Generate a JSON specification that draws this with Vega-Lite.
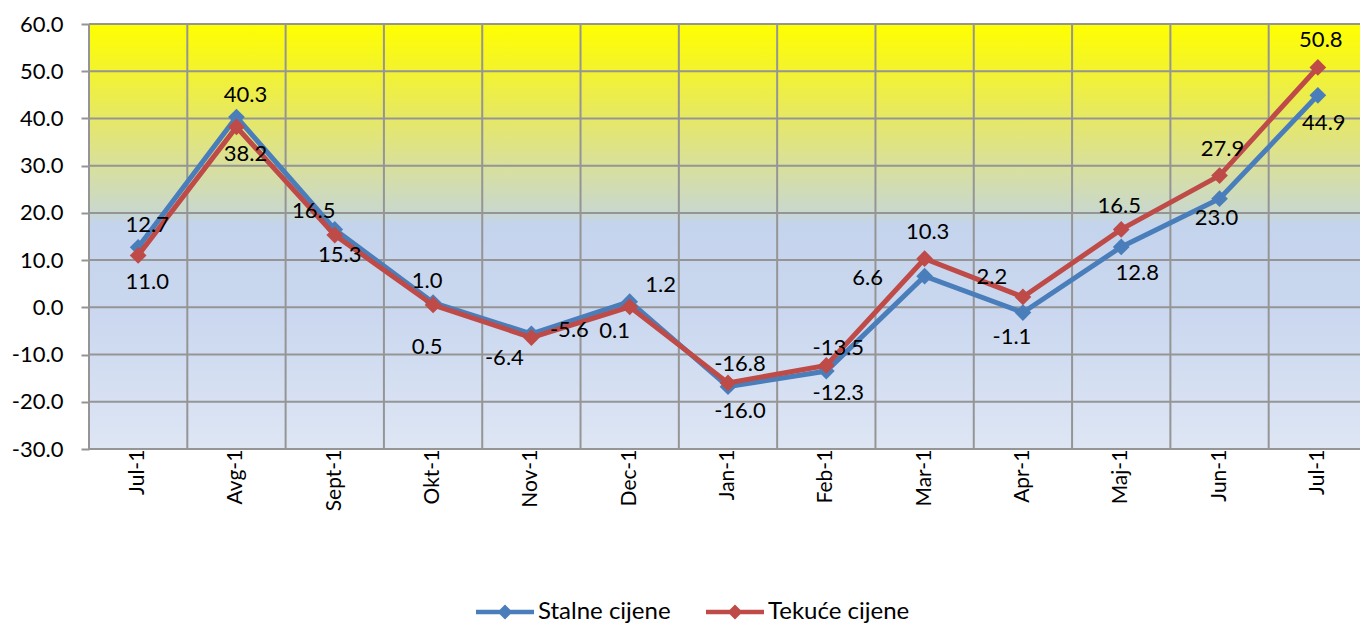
{
  "$schema": "https://vega.github.io/schema/vega-lite/v6.json",
  "width": 1271,
  "height": 425,
  "autosize": {"type": "none"},
  "padding": {"left": 89, "top": 24, "right": 0, "bottom": 176},
  "background": "white",
  "config": {
    "view": {"stroke": null},
    "locale": {"number": {"decimal": ".", "thousands": ",", "grouping": [3], "currency": ["", ""], "minus": "-"}},
    "text": {"font": "Lato", "fontSize": 22, "fill": "#000000"},
    "axis": {"labelFont": "Lato", "labelFontSize": 21, "labelColor": "#000000"}
  },
  "datasets": {
    "main": [
      {"mjesec": "Jul-10", "serija": "Stalne cijene", "v": 12.7},
      {"mjesec": "Avg-10", "serija": "Stalne cijene", "v": 40.3},
      {"mjesec": "Sept-10", "serija": "Stalne cijene", "v": 16.5},
      {"mjesec": "Okt-10", "serija": "Stalne cijene", "v": 1.0},
      {"mjesec": "Nov-10", "serija": "Stalne cijene", "v": -5.6},
      {"mjesec": "Dec-10", "serija": "Stalne cijene", "v": 1.2},
      {"mjesec": "Jan-11", "serija": "Stalne cijene", "v": -16.8},
      {"mjesec": "Feb-11", "serija": "Stalne cijene", "v": -13.5},
      {"mjesec": "Mar-11", "serija": "Stalne cijene", "v": 6.6},
      {"mjesec": "Apr-11", "serija": "Stalne cijene", "v": -1.1},
      {"mjesec": "Maj-11", "serija": "Stalne cijene", "v": 12.8},
      {"mjesec": "Jun-11", "serija": "Stalne cijene", "v": 23.0},
      {"mjesec": "Jul-11", "serija": "Stalne cijene", "v": 44.9},
      {"mjesec": "Jul-10", "serija": "Tekuće cijene", "v": 11.0},
      {"mjesec": "Avg-10", "serija": "Tekuće cijene", "v": 38.2},
      {"mjesec": "Sept-10", "serija": "Tekuće cijene", "v": 15.3},
      {"mjesec": "Okt-10", "serija": "Tekuće cijene", "v": 0.5},
      {"mjesec": "Nov-10", "serija": "Tekuće cijene", "v": -6.4},
      {"mjesec": "Dec-10", "serija": "Tekuće cijene", "v": 0.1},
      {"mjesec": "Jan-11", "serija": "Tekuće cijene", "v": -16.0},
      {"mjesec": "Feb-11", "serija": "Tekuće cijene", "v": -12.3},
      {"mjesec": "Mar-11", "serija": "Tekuće cijene", "v": 10.3},
      {"mjesec": "Apr-11", "serija": "Tekuće cijene", "v": 2.2},
      {"mjesec": "Maj-11", "serija": "Tekuće cijene", "v": 16.5},
      {"mjesec": "Jun-11", "serija": "Tekuće cijene", "v": 27.9},
      {"mjesec": "Jul-11", "serija": "Tekuće cijene", "v": 50.8}
    ],
    "grid": [
      {"v": -30}, {"v": -20}, {"v": -10}, {"v": 0}, {"v": 10},
      {"v": 20}, {"v": 30}, {"v": 40}, {"v": 50}, {"v": 60}
    ]
  },
  "data": {"name": "main"},
  "encoding": {
    "x": {
      "field": "mjesec", "type": "nominal",
      "scale": {
        "domain": ["Jul-10", "Avg-10", "Sept-10", "Okt-10", "Nov-10", "Dec-10", "Jan-11", "Feb-11", "Mar-11", "Apr-11", "Maj-11", "Jun-11", "Jul-11"],
        "range": [0, 1278],
        "paddingInner": 0, "paddingOuter": 0
      },
      "axis": {
        "title": null, "labelAngle": -90, "ticks": false, "domain": false, "grid": false,
        "labelPadding": -12, "zindex": 0, "labelOverlap": false, "labelBound": false
      }
    },
    "y": {
      "field": "v", "type": "quantitative",
      "scale": {"domain": [-30, 60], "nice": false, "zero": false},
      "axis": {
        "title": null, "format": ".1f", "values": [-30, -20, -10, 0, 10, 20, 30, 40, 50, 60],
        "grid": false, "domain": false, "ticks": true, "tickSize": 8, "tickColor": "#959595",
        "tickWidth": 2, "labelPadding": 18, "zindex": 0, "labelFontSize": 22
      }
    }
  },
  "layer": [
    {
      "data": {"values": [{}]},
      "mark": {
        "type": "rect",
        "fill": {
          "gradient": "linear", "x1": 0, "y1": 0, "x2": 0, "y2": 1,
          "stops": [
            {"offset": 0, "color": "#FFFF00"},
            {"offset": 0.08, "color": "#F6F621"},
            {"offset": 0.22, "color": "#E6E864"},
            {"offset": 0.33, "color": "#D9E09A"},
            {"offset": 0.44, "color": "#C9D8CC"},
            {"offset": 0.47, "color": "#C4D4EC"},
            {"offset": 0.7, "color": "#CBD8EF"},
            {"offset": 1, "color": "#DEE6F4"}
          ]
        }
      },
      "encoding": {"x": null, "y": null}
    },
    {
      "data": {"name": "grid"},
      "mark": {"type": "rule", "color": "#959595", "strokeWidth": 2},
      "encoding": {"x": null}
    },
    {
      "transform": [{"filter": "datum.serija == 'Stalne cijene'"}],
      "mark": {"type": "rule", "color": "#959595", "strokeWidth": 2},
      "encoding": {
        "x": {"field": "mjesec", "type": "nominal", "bandPosition": 0},
        "y": null
      }
    },
    {
      "transform": [{"filter": "datum.serija == 'Stalne cijene'"}],
      "mark": {"type": "line", "strokeWidth": 5},
      "encoding": {
        "color": {
          "field": "serija", "type": "nominal",
          "scale": {"domain": ["Stalne cijene", "Tekuće cijene"], "range": ["#4A7EBB", "#BE4B48"]},
          "legend": {
            "title": null, "orient": "none", "legendX": 404, "legendY": 576,
            "direction": "horizontal",
            "symbolType": "M-2.9,-0.22L2.9,-0.22L2.9,0.22L-2.9,0.22Z M0,-0.75L0.75,0L0,0.75L-0.75,0Z",
            "symbolSize": 400, "symbolStrokeWidth": 0,
            "labelFont": "Lato", "labelFontSize": 24, "labelColor": "#000000",
            "labelOffset": 21, "columnPadding": 35,
            "encode": {
              "symbols": {
                "update": {
                  "fill": {"scale": "color", "field": "value"},
                  "stroke": {"value": "transparent"},
                  "strokeWidth": {"value": 0},
                  "opacity": {"value": 1}
                }
              }
            }
          }
        }
      }
    },
    {
      "transform": [{"filter": "datum.serija == 'Stalne cijene'"}],
      "mark": {"type": "point", "shape": "diamond", "filled": true, "size": 280, "opacity": 1},
      "encoding": {"color": {"field": "serija", "type": "nominal"}}
    },
    {
      "transform": [{"filter": "datum.serija == 'Tekuće cijene'"}],
      "mark": {"type": "line", "strokeWidth": 5},
      "encoding": {"color": {"field": "serija", "type": "nominal"}}
    },
    {
      "transform": [{"filter": "datum.serija == 'Tekuće cijene'"}],
      "mark": {"type": "point", "shape": "diamond", "filled": true, "size": 280, "opacity": 1},
      "encoding": {"color": {"field": "serija", "type": "nominal"}}
    },
    {
      "transform": [{"filter": "datum.serija == 'Stalne cijene' && indexof(['Jul-10','Avg-10'], datum.mjesec) >= 0"}],
      "mark": {"type": "text", "dx": 9, "dy": -22},
      "encoding": {"text": {"field": "v", "type": "quantitative", "format": ".1f"}}
    },
    {
      "transform": [{"filter": "datum.serija == 'Tekuće cijene' && indexof(['Jul-10','Avg-10'], datum.mjesec) >= 0"}],
      "mark": {"type": "text", "dx": 9, "dy": 27},
      "encoding": {"text": {"field": "v", "type": "quantitative", "format": ".1f"}}
    },
    {
      "transform": [{"filter": "datum.serija == 'Stalne cijene' && datum.mjesec == 'Sept-10'"}],
      "mark": {"type": "text", "dx": -21, "dy": -18},
      "encoding": {"text": {"field": "v", "type": "quantitative", "format": ".1f"}}
    },
    {
      "transform": [{"filter": "datum.serija == 'Tekuće cijene' && datum.mjesec == 'Sept-10'"}],
      "mark": {"type": "text", "dx": 5, "dy": 20},
      "encoding": {"text": {"field": "v", "type": "quantitative", "format": ".1f"}}
    },
    {
      "transform": [{"filter": "datum.serija == 'Stalne cijene' && datum.mjesec == 'Okt-10'"}],
      "mark": {"type": "text", "dx": -6, "dy": -22},
      "encoding": {"text": {"field": "v", "type": "quantitative", "format": ".1f"}}
    },
    {
      "transform": [{"filter": "datum.serija == 'Tekuće cijene' && datum.mjesec == 'Okt-10'"}],
      "mark": {"type": "text", "dx": -6, "dy": 42},
      "encoding": {"text": {"field": "v", "type": "quantitative", "format": ".1f"}}
    },
    {
      "transform": [{"filter": "datum.serija == 'Stalne cijene' && datum.mjesec == 'Nov-10'"}],
      "mark": {"type": "text", "dx": 38, "dy": -4},
      "encoding": {"text": {"field": "v", "type": "quantitative", "format": ".1f"}}
    },
    {
      "transform": [{"filter": "datum.serija == 'Tekuće cijene' && datum.mjesec == 'Nov-10'"}],
      "mark": {"type": "text", "dx": -27, "dy": 20},
      "encoding": {"text": {"field": "v", "type": "quantitative", "format": ".1f"}}
    },
    {
      "transform": [{"filter": "datum.serija == 'Stalne cijene' && datum.mjesec == 'Dec-10'"}],
      "mark": {"type": "text", "dx": 31, "dy": -17},
      "encoding": {"text": {"field": "v", "type": "quantitative", "format": ".1f"}}
    },
    {
      "transform": [{"filter": "datum.serija == 'Tekuće cijene' && datum.mjesec == 'Dec-10'"}],
      "mark": {"type": "text", "dx": -15, "dy": 24},
      "encoding": {"text": {"field": "v", "type": "quantitative", "format": ".1f"}}
    },
    {
      "transform": [{"filter": "datum.serija == 'Stalne cijene' && indexof(['Jan-11','Feb-11'], datum.mjesec) >= 0"}],
      "mark": {"type": "text", "dx": 12, "dy": -23},
      "encoding": {"text": {"field": "v", "type": "quantitative", "format": ".1f"}}
    },
    {
      "transform": [{"filter": "datum.serija == 'Tekuće cijene' && indexof(['Jan-11','Feb-11'], datum.mjesec) >= 0"}],
      "mark": {"type": "text", "dx": 12, "dy": 28},
      "encoding": {"text": {"field": "v", "type": "quantitative", "format": ".1f"}}
    },
    {
      "transform": [{"filter": "datum.serija == 'Stalne cijene' && datum.mjesec == 'Mar-11'"}],
      "mark": {"type": "text", "dx": -57, "dy": 2},
      "encoding": {"text": {"field": "v", "type": "quantitative", "format": ".1f"}}
    },
    {
      "transform": [{"filter": "datum.serija == 'Tekuće cijene' && indexof(['Mar-11','Jun-11','Jul-11'], datum.mjesec) >= 0"}],
      "mark": {"type": "text", "dx": 3, "dy": -27},
      "encoding": {"text": {"field": "v", "type": "quantitative", "format": ".1f"}}
    },
    {
      "transform": [{"filter": "datum.serija == 'Stalne cijene' && datum.mjesec == 'Apr-11'"}],
      "mark": {"type": "text", "dx": -11, "dy": 24},
      "encoding": {"text": {"field": "v", "type": "quantitative", "format": ".1f"}}
    },
    {
      "transform": [{"filter": "datum.serija == 'Tekuće cijene' && datum.mjesec == 'Apr-11'"}],
      "mark": {"type": "text", "dx": -31, "dy": -20},
      "encoding": {"text": {"field": "v", "type": "quantitative", "format": ".1f"}}
    },
    {
      "transform": [{"filter": "datum.serija == 'Stalne cijene' && datum.mjesec == 'Maj-11'"}],
      "mark": {"type": "text", "dx": 16, "dy": 26},
      "encoding": {"text": {"field": "v", "type": "quantitative", "format": ".1f"}}
    },
    {
      "transform": [{"filter": "datum.serija == 'Tekuće cijene' && datum.mjesec == 'Maj-11'"}],
      "mark": {"type": "text", "dx": -2, "dy": -23},
      "encoding": {"text": {"field": "v", "type": "quantitative", "format": ".1f"}}
    },
    {
      "transform": [{"filter": "datum.serija == 'Stalne cijene' && datum.mjesec == 'Jun-11'"}],
      "mark": {"type": "text", "dx": -3, "dy": 19},
      "encoding": {"text": {"field": "v", "type": "quantitative", "format": ".1f"}}
    },
    {
      "transform": [{"filter": "datum.serija == 'Stalne cijene' && datum.mjesec == 'Jul-11'"}],
      "mark": {"type": "text", "dx": 6, "dy": 28},
      "encoding": {"text": {"field": "v", "type": "quantitative", "format": ".1f"}}
    }
  ]
}
